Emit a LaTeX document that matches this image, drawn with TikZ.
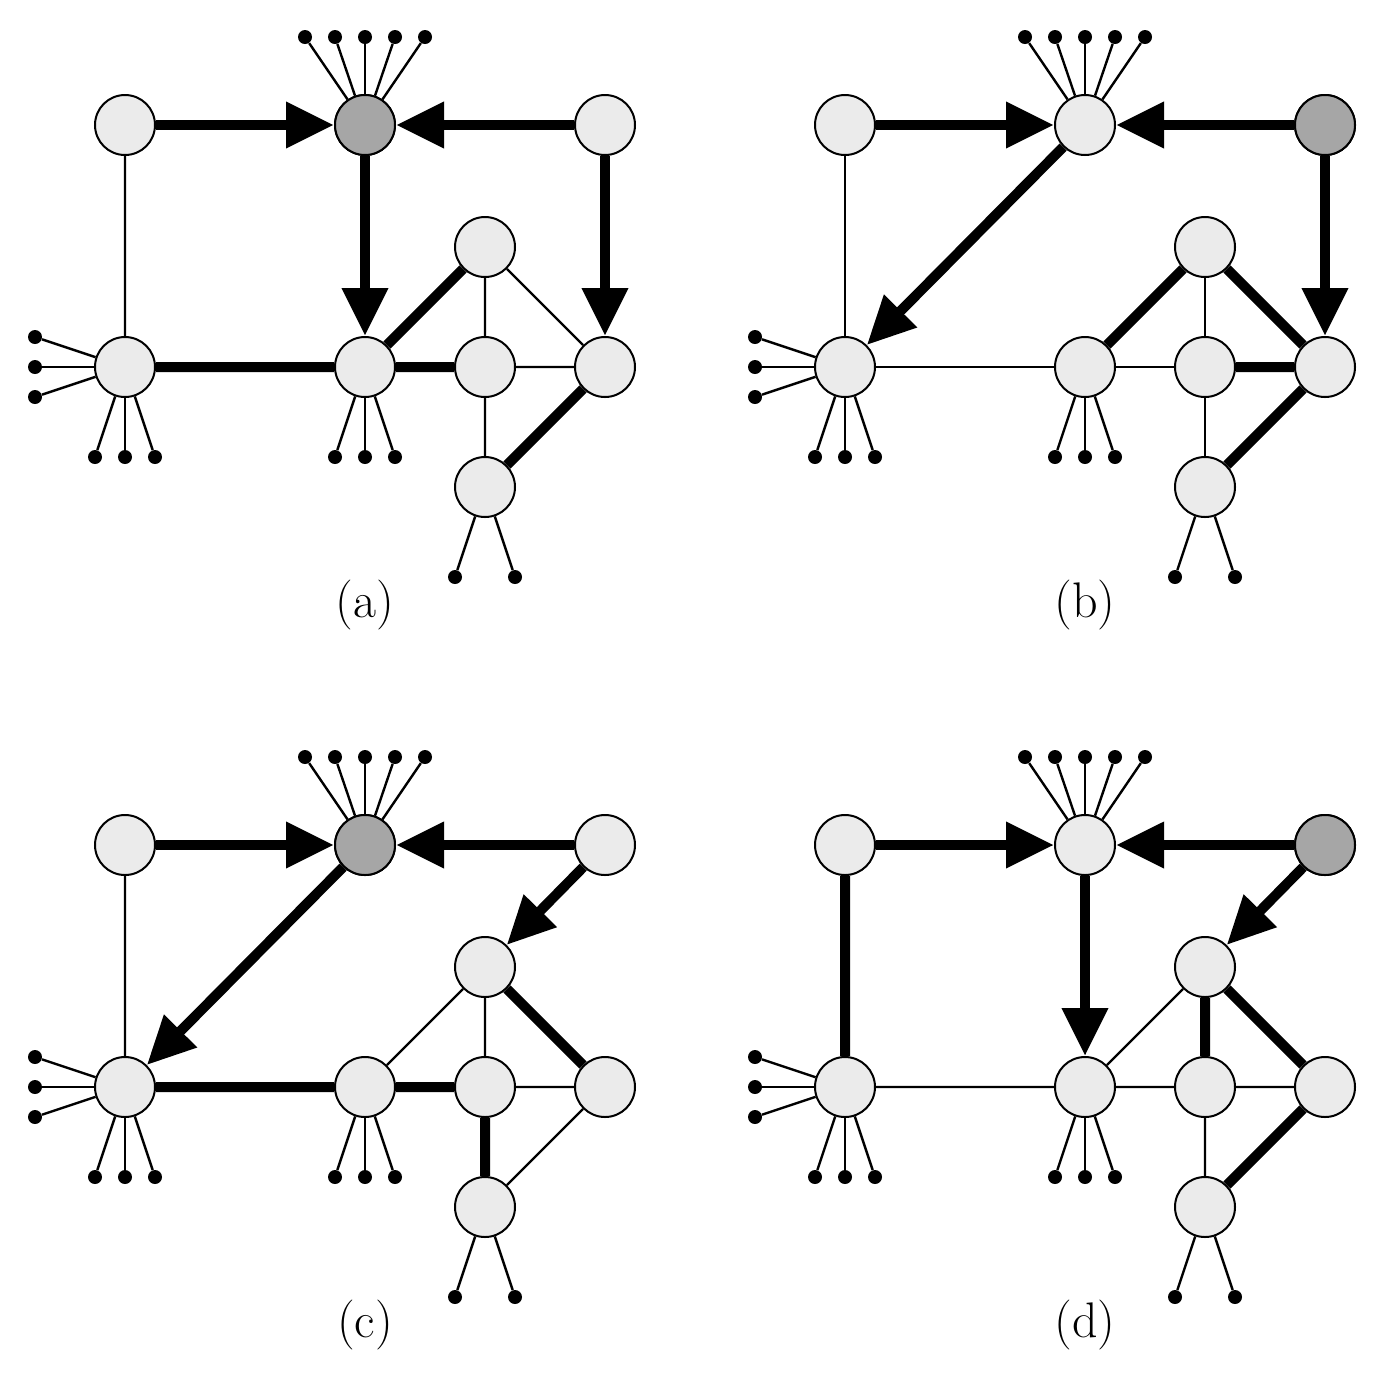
\documentclass[tikz,border=0pt]{standalone}
\usetikzlibrary{arrows.meta}
\tikzset{
  x=0.5pt,y=-0.5pt,
  vtx/.style={circle,draw,line width=1pt,fill=black!8,minimum size=30pt,inner sep=0pt},
  dk/.style={fill=black!35},
  leaf/.style={circle,fill=black,minimum size=7pt,inner sep=0pt},
  thin/.style={line width=1.2pt},
  thk/.style={line width=5pt},
  arr/.style={line width=5pt,-{Triangle[length=24pt,width=22pt]}},
  lbl/.style={font=\fontsize{25}{30}\selectfont}
}
\newcommand{\panelbase}{%
  \node[vtx] (A) at (125,125) {};
  \node[vtx] (B) at (365,125) {};
  \node[vtx] (C) at (605,125) {};
  \node[vtx] (D) at (125,367) {};
  \node[vtx] (E) at (365,367) {};
  \node[vtx] (F) at (485,247) {};
  \node[vtx] (G) at (485,367) {};
  \node[vtx] (H) at (605,367) {};
  \node[vtx] (I) at (485,487) {};
  \foreach \n/\x/\y/\p in {b1/305/37/B,b2/335/37/B,b3/365/37/B,b4/395/37/B,b5/425/37/B,
     d1/35/337/D,d2/35/367/D,d3/35/397/D,d4/95/457/D,d5/125/457/D,d6/155/457/D,
     e1/335/457/E,e2/365/457/E,e3/395/457/E,i1/455/577/I,i2/515/577/I}{
    \node[leaf] (\n) at (\x,\y) {};
    \draw[thin] (\p) -- (\n);
  }
}
\begin{document}
\begin{tikzpicture}
\useasboundingbox (0,0) rectangle (1382,1378);
% (a)
\begin{scope}[name prefix=a-]
\panelbase
\node[vtx,dk] at (B) {};
\draw[thin] (A)--(D) (F)--(G) (F)--(H) (G)--(H) (G)--(I);
\draw[thk] (D)--(E) (E)--(F) (E)--(G) (H)--(I);
\draw[arr] (A)--(B); \draw[arr] (C)--(B); \draw[arr] (B)--(E); \draw[arr] (C)--(H);
\node[lbl] (la) at (365,605) {(a)};
\end{scope}
% (b)
\begin{scope}[shift={(720,0)},name prefix=b-]
\panelbase
\node[vtx,dk] at (C) {};
\draw[thin] (A)--(D) (D)--(E) (E)--(G) (F)--(G) (G)--(I);
\draw[thk] (E)--(F) (F)--(H) (G)--(H) (H)--(I);
\draw[arr] (A)--(B); \draw[arr] (C)--(B); \draw[arr] (B)--(D); \draw[arr] (C)--(H);
\node[lbl] (lb) at (365,605) {(b)};
\end{scope}
% (c)
\begin{scope}[shift={(0,720)},name prefix=c-]
\panelbase
\node[vtx,dk] at (B) {};
\draw[thin] (A)--(D) (E)--(F) (F)--(G) (G)--(H) (H)--(I);
\draw[thk] (D)--(E) (E)--(G) (F)--(H) (G)--(I);
\draw[arr] (A)--(B); \draw[arr] (C)--(B); \draw[arr] (B)--(D); \draw[arr] (C)--(F);
\node[lbl] (lc) at (365,605) {(c)};
\end{scope}
% (d)
\begin{scope}[shift={(720,720)},name prefix=d-]
\panelbase
\node[vtx,dk] at (C) {};
\draw[thin] (D)--(E) (E)--(F) (E)--(G) (G)--(H) (G)--(I);
\draw[thk] (A)--(D) (F)--(G) (F)--(H) (H)--(I);
\draw[arr] (A)--(B); \draw[arr] (C)--(B); \draw[arr] (B)--(E); \draw[arr] (C)--(F);
\node[lbl] (ld) at (365,605) {(d)};
\end{scope}
\end{tikzpicture}
\end{document}
